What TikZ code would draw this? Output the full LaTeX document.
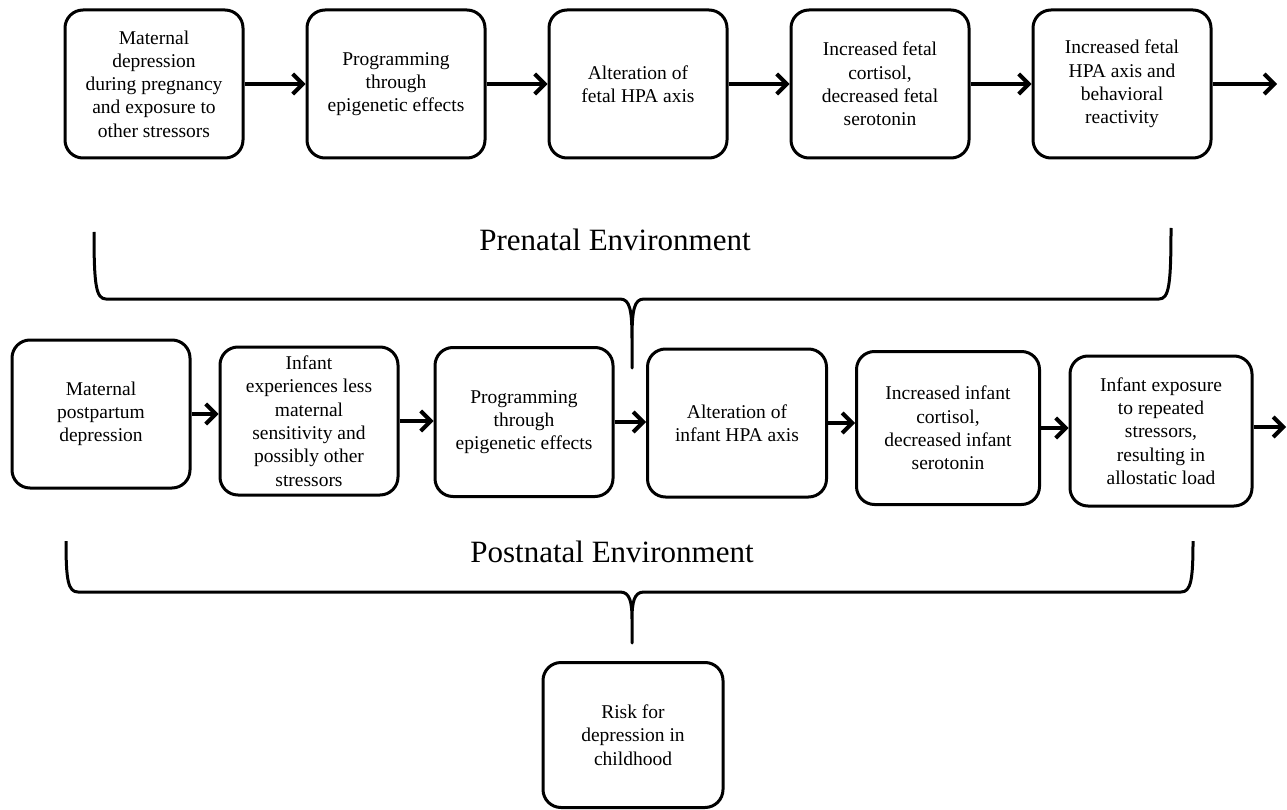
\documentclass[tikz,border=0pt]{standalone}
\usepackage{fontspec}
\setmainfont{Liberation Serif}
\usepackage{tikz}
\usetikzlibrary{arrows.meta}

\begin{document}
\begin{tikzpicture}[x=1pt, y=-1pt,
  box/.style={draw=black, line width=3pt, rounded corners=18pt, minimum width=178pt, minimum height=148pt, inner sep=2pt, align=center, font=\fontsize{19.5}{23.3}\selectfont},
  fleche/.style={line width=4pt, -{Straight Barb[length=10pt, width=20pt, line width=4pt]}},
  accolade/.style={line width=3pt, line join=round},
  titre/.style={font=\fontsize{31}{36}\selectfont}]

\useasboundingbox (0,0) rectangle (1287,810);

% Les boîtes prénatales
\foreach \t [count=\i] in {{Maternal\\depression\\during pregnancy\\and exposure to\\other stressors},
  {Programming\\through\\epigenetic effects},
  {Alteration of\\fetal HPA axis},
  {Increased fetal\\cortisol,\\decreased fetal\\serotonin},
  {Increased fetal\\HPA axis and\\behavioral\\reactivity}}
\node[box] (A\i) at (154+242*\i-242,84) {\t};
\coordinate (A6) at (1277,84);

% Les flèches prénatales
\foreach \i [count=\j from 2] in {1,...,4}
\draw[fleche] (A\i.east) -- (A\j.west);
\draw[fleche] (A5.east) -- (A6);

% Environnement prénatal
\node[titre] (pre) at (615,240) {Prenatal Environment};
\coordinate (preG) at (94,232);
\coordinate (preD) at (1171,228);
\coordinate (preP) at (632,368);
\draw[accolade] (preG) .. controls (94,285) and (96,299) .. (106,299) -- (620,299)
  .. controls (630,299) and (632,310) .. (632,340) -- (preP) -- (632,340)
  .. controls (632,310) and (634,299) .. (644,299) -- (1159,299)
  .. controls (1169,299) and (1171,285) .. (preD);

% Les boîtes postnatales
\node[box] (B1) at (101,414) {Maternal\\postpartum\\depression};
\node[box] (B2) at (309,421) {Infant\\experiences less\\maternal\\sensitivity and\\possibly other\\stressors};
\node[box, minimum height=149pt] (B3) at (524,422) {Programming\\through\\epigenetic effects};
\node[box, minimum width=179pt] (B4) at (737,423) {Alteration of\\infant HPA axis};
\node[box, minimum width=183pt, minimum height=153pt] (B5) at (948,428) {Increased infant\\cortisol,\\decreased infant\\serotonin};
\node[box, minimum width=182pt, minimum height=150pt] (B6) at (1161,431) {Infant exposure\\to repeated\\stressors,\\resulting in\\allostatic load};
\coordinate (B7) at (1286,427);

% Les flèches postnatales
\draw[fleche] (B1.east) -- (B1.east -| B2.west);
\draw[fleche] (B2.east) -- (B2.east -| B3.west);
\draw[fleche] (B3.east) -- (B3.east -| B4.west);
\draw[fleche] (B4.east) -- (B4.east -| B5.west);
\draw[fleche] (B5.east) -- (B5.east -| B6.west);
\draw[fleche] (B6.east |- B7) -- (B7);

% Environnement postnatal
\node[titre] (post) at (612,552) {Postnatal Environment};
\coordinate (postG) at (66,541);
\coordinate (postD) at (1193,541);
\coordinate (postP) at (632,643);
\draw[accolade] (postG) .. controls (66,580) and (68,592) .. (78,592) -- (620,592)
  .. controls (630,592) and (632,602) .. (632,620) -- (postP) -- (632,620)
  .. controls (632,602) and (634,592) .. (644,592) -- (1181,592)
  .. controls (1191,592) and (1193,580) .. (postD);

% Le risque
\node[box, minimum width=180pt, minimum height=145pt] (R) at (633,735) {Risk for\\depression in\\childhood};

\end{tikzpicture}
\end{document}
